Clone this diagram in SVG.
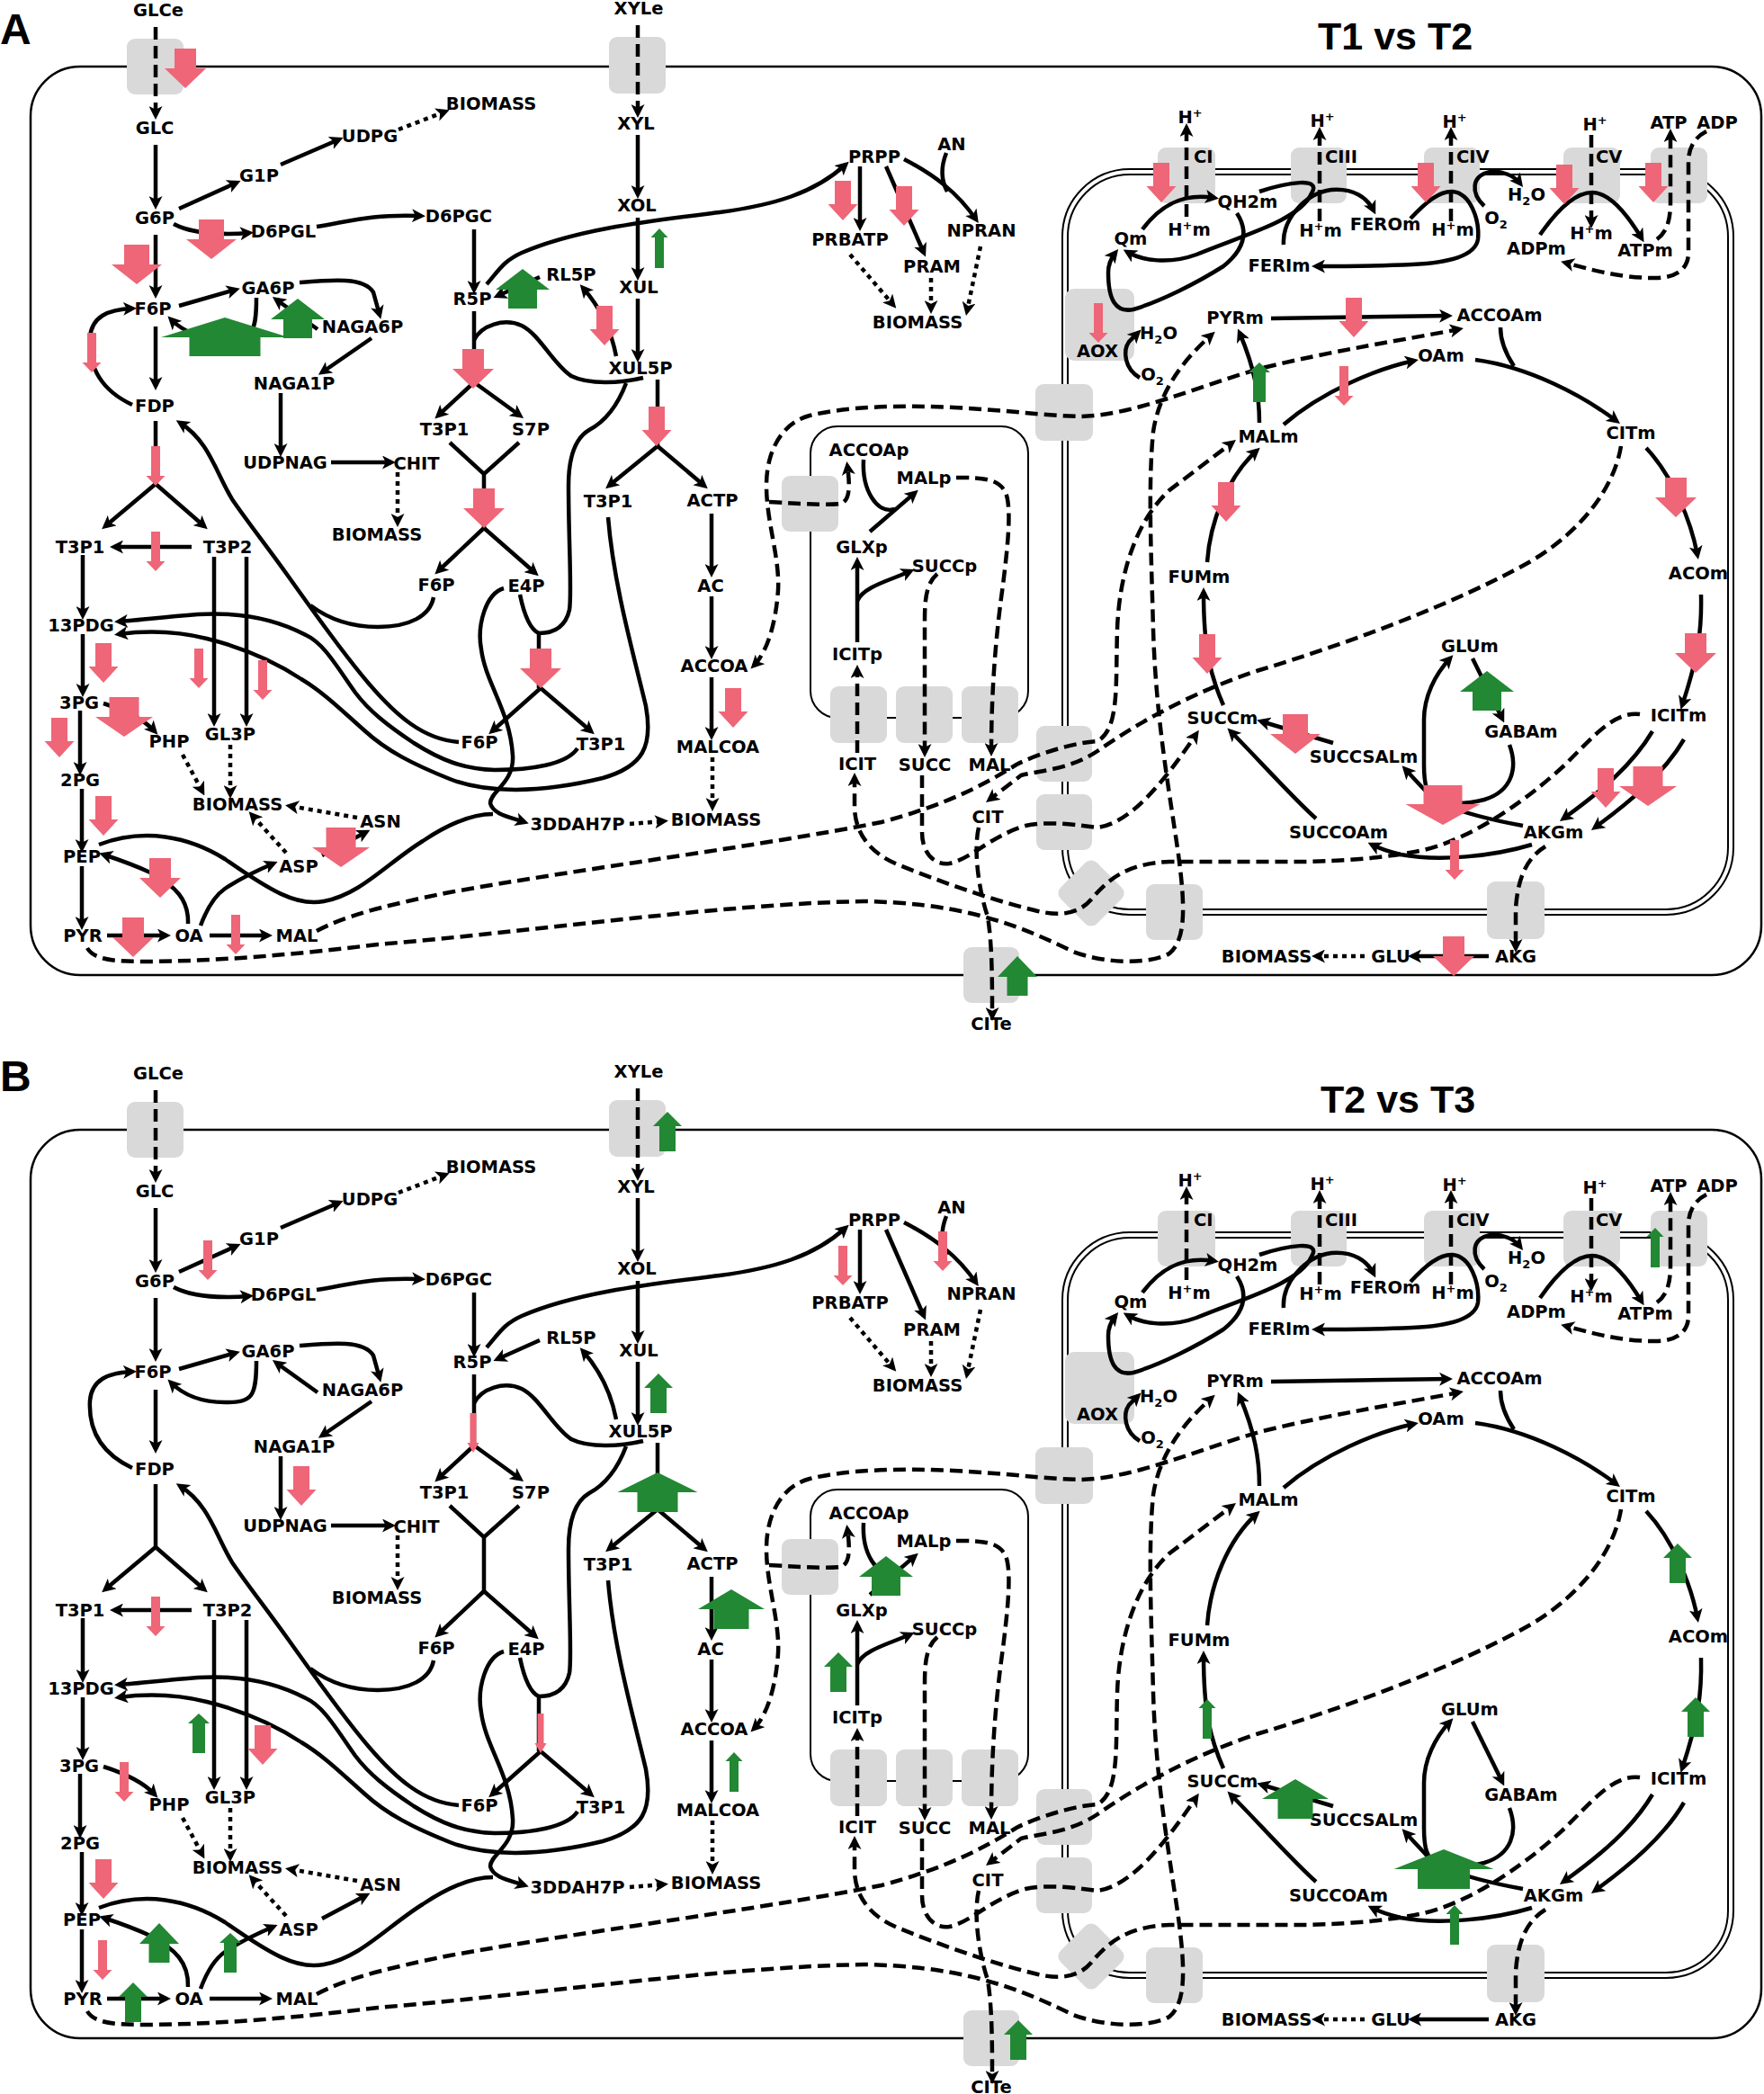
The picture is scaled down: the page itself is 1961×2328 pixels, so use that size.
<svg xmlns="http://www.w3.org/2000/svg" xmlns:xlink="http://www.w3.org/1999/xlink" width="1961" height="2328" viewBox="0 0 1961 2328">
<style>
.t{font-family:"DejaVu Sans",Verdana,sans-serif;font-weight:bold;font-size:19.5px;text-anchor:middle;fill:#000}
.ts{text-anchor:start}
.sup{font-size:13px}
.s{fill:none;stroke:#000;stroke-width:4.5}
.a{marker-end:url(#ah)}
.d{stroke-dasharray:14 7}
.o{stroke-dasharray:5 5}
.m{fill:none;stroke:#000;stroke-width:2}
.cell{fill:none;stroke:#000;stroke-width:2.5}
.box{fill:#d9d9d9}
.pk{fill:#EE6677}
.gr{fill:#228833}
.big{font-family:"Liberation Sans",Arial,sans-serif;font-weight:bold;fill:#000}
</style>
<defs>
<marker id="ah" viewBox="0 0 12 12" refX="8" refY="6" markerWidth="15" markerHeight="15" markerUnits="userSpaceOnUse" orient="auto-start-reverse"><path d="M0,0L12,6L0,12L3,6Z" fill="#000"/></marker>
<path id="dXS" d="M-3.5,0H3.5V33H6.5L0,44L-6.5,33H-3.5Z"/>
<path id="dS" d="M-5,0H5V33H10.5L0,44L-10.5,33H-5Z"/>
<path id="dM" d="M-9,0H9V26H16.5L0,44L-16.5,26H-9Z"/>
<path id="dL" d="M-12,0H12V22H23L0,44L-23,22H-12Z"/>
<path id="dLL" d="M-14,0H14V22H28L0,44L-28,22H-14Z"/>
<path id="dXL" d="M-16.5,0H16.5V22H32L0,44L-32,22H-16.5Z"/>
<path id="dXXL" d="M-21.5,0H21.5V21H41.5L0,44L-41.5,21H-21.5Z"/>
<path id="uS" d="M0,0L9.5,10H5V44H-5V10H-9.5Z"/>
<path id="uM" d="M0,0L12,11H7V44H-7V11H-12Z"/>
<path id="uM2" d="M0,0L16,16H9V44H-9V16H-16Z"/>
<path id="uL" d="M0,0L22,23H11.5V44H-11.5V23H-22Z"/>
<path id="uL2" d="M0,0L30,23H16V44H-16V23H-30Z"/>
<path id="uL3" d="M0,0L37,22H19.5V44H-19.5V22H-37Z"/>
<path id="uXL" d="M0,0L44.5,22H22.5V44H-22.5V22H-44.5Z"/>
<path id="uXL2" d="M0,0L55.5,22H29V44H-29V22H-55.5Z"/>
<path id="uXXL" d="M0,0L71,22H39.5V43H-39.5V22H-71Z"/>

<g id="net">
<g id="compartments">
<rect x="34" y="74" width="1924" height="1010" rx="55" class="cell"/>
<rect x="1181" y="188" width="746" height="829" rx="75" class="m"/>
<rect x="1187" y="194" width="734" height="817" rx="69" class="m"/>
<rect x="901" y="474" width="242" height="324" rx="30" class="m"/>
</g>
<g id="transporters">
<rect class="box" x="141" y="43" width="63" height="62" rx="9"/>
<rect class="box" x="677" y="41" width="63" height="63" rx="9"/>
<rect class="box" x="869" y="529" width="63" height="62" rx="9"/>
<rect class="box" x="923" y="763" width="63" height="63" rx="9"/>
<rect class="box" x="996" y="763" width="63" height="63" rx="9"/>
<rect class="box" x="1069" y="763" width="63" height="63" rx="9"/>
<rect class="box" x="1071" y="1053" width="62" height="62" rx="9"/>
<rect class="box" x="1151" y="427" width="64" height="63" rx="9"/>
<rect class="box" x="1152" y="807" width="62" height="62" rx="9"/>
<rect class="box" x="1152" y="883" width="62" height="62" rx="9"/>
<rect class="box" x="-28.5" y="-28.5" width="57" height="57" rx="9" transform="translate(1213,993) rotate(45)"/>
<rect class="box" x="1274" y="983" width="63" height="62" rx="9"/>
<rect class="box" x="1653" y="980" width="64" height="64" rx="9"/>
<rect class="box" x="1287" y="164" width="64" height="62" rx="9"/>
<rect class="box" x="1435" y="164" width="62" height="62" rx="9"/>
<rect class="box" x="1583" y="164" width="62" height="62" rx="9"/>
<rect class="box" x="1738" y="164" width="63" height="62" rx="9"/>
<rect class="box" x="1835" y="164" width="63" height="62" rx="9"/>
<rect class="box" x="1184" y="321" width="77" height="80" rx="10"/>
</g>
<g id="connectors">
<g class="s a">
<path d="M173,161V228"/><path d="M199,232L263,203"/><path d="M312,183L377,155"/>
<path d="M193,249C210,258 240,262 277,259"/><path d="M352,252C390,246 410,238 468,240"/>
<path d="M173,261V327"/><path d="M199,340L262,322"/><path d="M333,314C370,311 405,308 415,325L422,350"/>
<path d="M353,366L307,333"/><path d="M285,331C285,372 280,377 250,377C225,377 205,370 190,355"/>
<path d="M413,376L358,414"/><path d="M312,437V503"/><path d="M368,514H435"/>
<path d="M173,363V429"/><path d="M147,450C115,435 98,410 100,375C102,352 120,344 147,343"/>
<path d="M173,538L117,585"/><path d="M173,538L227,585"/>
<path d="M213,608H127"/><path d="M92,617V684"/><path d="M238,619V803"/><path d="M274,619V803"/>
<path d="M92,705V770"/><path d="M115,782C140,790 160,800 172,813"/><path d="M89,790V857"/>
<path d="M91,877V943"/><path d="M91,963V1029"/><path d="M119,1040H185"/><path d="M233,1040H298"/>
<path d="M209,1027C210,1000 195,985 167,970C150,962 130,955 115,950"/>
<path d="M223,1029C230,1010 240,995 250,988C265,978 285,968 304,960"/>
<path d="M358,951L407,925"/>
<path d="M560,654C540,660 530,695 535,722C540,760 567,790 570,840C572,870 545,880 545,893C548,905 565,908 583,914"/>
<path d="M510,825C470,822 440,795 410,760C380,725 345,675 320,640C295,605 275,580 258,555C240,525 232,490 200,470"/>
<path d="M642,832C630,850 590,856 550,856C515,855 490,845 460,826C430,806 410,790 395,770C375,742 360,715 340,706C310,690 270,680 220,683C180,686 150,690 132,691"/>
<path d="M676,575C682,650 705,730 718,785C726,830 715,852 670,865C600,882 540,882 500,866C460,850 430,835 405,812C380,790 360,770 335,755C305,735 270,720 230,710C190,700 155,702 132,705"/>
<path d="M527,255V322"/><path d="M600,308L553,329"/><path d="M685,396C680,370 670,345 648,320"/>
<path d="M541,316C555,300 560,290 580,281C640,255 720,246 800,236C860,228 905,215 940,183"/>
<path d="M527,425L487,462"/><path d="M527,425L578,462"/>
<path d="M538,587L487,635"/><path d="M538,587L595,637"/>
<path d="M709,150V216"/><path d="M709,242V307"/><path d="M709,332V398"/>
<path d="M731,496L677,540"/><path d="M731,496L783,540"/>
<path d="M601,765L547,813"/><path d="M601,765L657,813"/>
<path d="M791,571V637"/><path d="M791,663V728"/><path d="M791,753V818"/>
<path d="M956,185V252"/><path d="M985,185L1027,281"/><path d="M1005,177C1040,195 1065,215 1085,244"/>
<path d="M953,714V624"/><path d="M953,668C960,652 990,645 1012,635"/><path d="M967,591L1017,548"/>
<path d="M1270,255C1290,228 1315,214 1350,220"/>
<path d="M1400,213C1430,203 1470,196 1458,215C1445,245 1380,262 1330,283C1300,294 1270,290 1253,280"/>
<path d="M1375,237C1390,260 1380,280 1360,296C1330,315 1290,335 1260,344C1240,348 1232,333 1232,303C1232,292 1236,286 1240,281"/>
<path d="M1427,272C1425,245 1450,215 1480,211C1505,209 1520,220 1527,234"/>
<path d="M1568,243C1585,225 1600,212 1615,213C1635,215 1645,245 1643,266C1640,285 1610,292 1570,294C1530,296 1490,296 1463,296"/>
<path d="M1650,229C1635,215 1635,195 1657,191C1670,190 1683,195 1690,204"/>
<path d="M1712,261C1730,235 1750,214 1770,214C1790,214 1810,240 1825,265"/>
<path d="M1267,420C1250,410 1248,390 1255,380L1265,370"/>
<path d="M1413,354L1610,351"/><path d="M1400,470C1400,440 1395,410 1378,370"/>
<path d="M1427,472C1470,435 1530,410 1572,401"/><path d="M1640,400C1700,408 1760,440 1797,468"/>
<path d="M1830,498C1860,530 1880,580 1887,617"/><path d="M1891,661C1892,700 1888,730 1870,784"/>
<path d="M1837,813C1815,850 1780,880 1738,910"/><path d="M1872,822C1850,860 1810,893 1773,920"/>
<path d="M1693,918C1660,912 1630,905 1600,893C1585,885 1583,870 1583,850V800C1583,775 1595,750 1612,732"/>
<path d="M1590,885L1562,855"/><path d="M1637,732L1670,799"/><path d="M1482,826L1402,802"/>
<path d="M1463,910C1440,890 1395,840 1368,813"/>
<path d="M1703,939C1660,952 1600,958 1557,950C1545,947 1535,944 1525,939"/>
<path d="M1360,784C1345,750 1338,720 1338,658"/><path d="M1342,625C1345,580 1365,530 1397,501"/>
<path d="M1655,1063H1570"/>
</g>
<g class="s">
<path d="M173,468V538"/><path d="M110,939C160,920 210,930 250,955C300,990 330,1008 360,1002C400,995 430,960 470,935C500,915 525,905 548,905"/>
<path d="M482,664C478,685 455,697 420,697C390,697 365,688 345,673"/>
<path d="M527,346V425"/><path d="M527,378C535,362 560,353 580,362C600,372 615,405 635,418C655,428 690,426 715,420"/>
<path d="M500,492L538,527L577,492M538,527V587"/>
<path d="M731,422V496"/>
<path d="M696,426C685,455 670,470 655,478C638,488 632,510 632,540C632,600 636,660 633,678C628,700 612,704 599,704"/>
<path d="M578,661C583,685 590,700 599,704M599,704V765"/>
<path d="M1052,170C1046,185 1046,200 1053,213"/>
<path d="M960,511C958,545 975,572 995,566"/>
<path d="M1668,364C1668,380 1675,395 1683,407"/>
<path d="M1678,828C1688,855 1680,880 1650,889C1635,893 1620,894 1605,892"/>
</g>
<g class="s d a">
<path d="M173,30V128"/><path d="M709,28V126"/>
<path d="M1319,241V142"/><path d="M1467,246V146"/><path d="M1613,246V146"/><path d="M1769,150V249"/>
<path d="M1842,266C1853,258 1857,245 1857,225V148"/>
<path d="M1897,146C1885,152 1877,163 1877,180V281C1877,298 1865,309 1840,309C1800,309 1770,300 1740,292"/>
<path style="marker-start:url(#ah)" d="M838,740C850,728 862,700 865,656C867,620 852,580 852,540C852,500 870,470 900,462C940,452 1000,450 1060,453C1120,456 1160,462 1200,463C1260,462 1330,430 1400,410C1480,390 1560,378 1622,366"/>
<path d="M855,558C890,560 920,562 935,560C945,556 945,540 942,518"/>
<path d="M1063,531C1090,531 1110,531 1118,548C1125,565 1120,610 1115,650C1108,700 1102,760 1102,836"/>
<path d="M1042,638C1030,648 1028,665 1028,690V837"/>
<path d="M1025,862V925C1025,950 1040,962 1055,960C1080,955 1100,930 1140,918C1170,912 1200,918 1220,920C1260,915 1300,860 1330,816"/>
<path d="M953,837V744"/>
<path d="M1823,794C1795,790 1770,820 1740,850C1710,878 1640,935 1573,947C1530,955 1480,958 1440,958L1300,958C1250,960 1230,980 1213,1000C1200,1015 1180,1020 1150,1012C1100,1000 1040,978 1000,962C970,950 952,930 950,900L950,864"/>
<path d="M1802,496C1795,540 1760,590 1700,625C1620,670 1500,715 1400,745C1330,768 1270,800 1220,835C1190,855 1160,856 1135,862L1100,889"/>
<path d="M1088,920C1082,945 1088,990 1098,1019C1103,1050 1103,1090 1103,1130"/>
<path d="M352,1035C380,1020 420,1008 500,992C650,965 850,940 980,914C1050,895 1090,875 1130,850C1160,835 1200,825 1220,824C1245,810 1240,760 1242,700C1244,640 1262,580 1300,545L1370,492"/>
<path d="M97,1054C105,1068 130,1069 167,1069C250,1068 330,1061 420,1050C600,1035 800,1005 960,1002C1060,1004 1120,1022 1193,1058C1230,1072 1280,1072 1300,1060C1318,1045 1318,1010 1310,950C1300,880 1285,800 1282,700C1280,620 1276,540 1282,480C1288,440 1310,405 1347,372"/>
<path d="M1718,941C1695,955 1687,980 1685,1010V1054"/>
</g>
<g class="s o a">
<path d="M443,144L495,124"/><path d="M442,525V581"/><path d="M203,839L225,880"/><path d="M256,828V883"/>
<path d="M397,909L322,896"/><path d="M318,948L280,906"/><path d="M700,916L738,913"/><path d="M792,842V897"/>
<path d="M1035,309V344"/><path d="M1090,274L1075,346"/><path d="M945,283L993,339"/><path d="M1517,1063H1463"/>
</g>
</g>
<g id="nodes">
<g id="n-GLCe"><text class="t" x="176" y="18">GLCe</text></g>
<g id="n-GLC"><text class="t" x="172" y="149">GLC</text></g>
<g id="n-G6P"><text class="t" x="172" y="249">G6P</text></g>
<g id="n-G1P"><text class="t" x="288" y="202">G1P</text></g>
<g id="n-UDPG"><text class="t" x="411" y="158">UDPG</text></g>
<g id="n-BIOMASS1"><text class="t" x="546" y="122">BIOMASS</text></g>
<g id="n-D6PGL"><text class="t" x="315" y="264">D6PGL</text></g>
<g id="n-D6PGC"><text class="t" x="510" y="247">D6PGC</text></g>
<g id="n-F6P"><text class="t" x="170" y="350">F6P</text></g>
<g id="n-GA6P"><text class="t" x="298" y="327">GA6P</text></g>
<g id="n-NAGA6P"><text class="t" x="403" y="370">NAGA6P</text></g>
<g id="n-NAGA1P"><text class="t" x="327" y="433">NAGA1P</text></g>
<g id="n-UDPNAG"><text class="t" x="317" y="521">UDPNAG</text></g>
<g id="n-CHIT"><text class="t" x="463" y="522">CHIT</text></g>
<g id="n-BIOMASS2"><text class="t" x="419" y="601">BIOMASS</text></g>
<g id="n-FDP"><text class="t" x="172" y="458">FDP</text></g>
<g id="n-T3P1a"><text class="t" x="89" y="615">T3P1</text></g>
<g id="n-T3P2"><text class="t" x="253" y="615">T3P2</text></g>
<g id="n-13PDG"><text class="t" x="90" y="702">13PDG</text></g>
<g id="n-3PG"><text class="t" x="88" y="788">3PG</text></g>
<g id="n-PHP"><text class="t" x="188" y="831">PHP</text></g>
<g id="n-GL3P"><text class="t" x="256" y="823">GL3P</text></g>
<g id="n-2PG"><text class="t" x="89" y="874">2PG</text></g>
<g id="n-PEP"><text class="t" x="91" y="959">PEP</text></g>
<g id="n-PYR"><text class="t" x="92" y="1047">PYR</text></g>
<g id="n-OA"><text class="t" x="210" y="1047">OA</text></g>
<g id="n-MAL"><text class="t" x="330" y="1047">MAL</text></g>
<g id="n-ASP"><text class="t" x="332" y="970">ASP</text></g>
<g id="n-ASN"><text class="t" x="423" y="920">ASN</text></g>
<g id="n-BIOMASS3"><text class="t" x="264" y="901">BIOMASS</text></g>
<g id="n-3DDAH7P"><text class="t" x="642" y="923">3DDAH7P</text></g>
<g id="n-BIOMASS4"><text class="t" x="796" y="918">BIOMASS</text></g>
<g id="n-XYLe"><text class="t" x="710" y="16">XYLe</text></g>
<g id="n-XYL"><text class="t" x="707" y="144">XYL</text></g>
<g id="n-XOL"><text class="t" x="708" y="235">XOL</text></g>
<g id="n-XUL"><text class="t" x="710" y="326">XUL</text></g>
<g id="n-XUL5P"><text class="t" x="712" y="416">XUL5P</text></g>
<g id="n-R5P"><text class="t" x="525" y="339">R5P</text></g>
<g id="n-RL5P"><text class="t" x="635" y="312">RL5P</text></g>
<g id="n-T3P1b"><text class="t" x="494" y="484">T3P1</text></g>
<g id="n-S7P"><text class="t" x="590" y="484">S7P</text></g>
<g id="n-F6Pb"><text class="t" x="485" y="657">F6P</text></g>
<g id="n-E4P"><text class="t" x="585" y="658">E4P</text></g>
<g id="n-F6Pc"><text class="t" x="533" y="832">F6P</text></g>
<g id="n-T3P1c"><text class="t" x="668" y="834">T3P1</text></g>
<g id="n-T3P1d"><text class="t" x="676" y="564">T3P1</text></g>
<g id="n-ACTP"><text class="t" x="792" y="563">ACTP</text></g>
<g id="n-AC"><text class="t" x="790" y="658">AC</text></g>
<g id="n-ACCOA"><text class="t" x="794" y="747">ACCOA</text></g>
<g id="n-MALCOA"><text class="t" x="798" y="837">MALCOA</text></g>
<g id="n-PRPP"><text class="t" x="972" y="181">PRPP</text></g>
<g id="n-PRBATP"><text class="t" x="945" y="273">PRBATP</text></g>
<g id="n-AN"><text class="t" x="1058" y="167">AN</text></g>
<g id="n-NPRAN"><text class="t" x="1091" y="263">NPRAN</text></g>
<g id="n-PRAM"><text class="t" x="1036" y="303">PRAM</text></g>
<g id="n-BIOMASS5"><text class="t" x="1020" y="365">BIOMASS</text></g>
<g id="n-ACCOAp"><text class="t" x="966" y="507">ACCOAp</text></g>
<g id="n-MALp"><text class="t" x="1027" y="538">MALp</text></g>
<g id="n-GLXp"><text class="t" x="958" y="615">GLXp</text></g>
<g id="n-SUCCp"><text class="t" x="1050" y="636">SUCCp</text></g>
<g id="n-ICITp"><text class="t" x="953" y="734">ICITp</text></g>
<g id="n-ICIT"><text class="t" x="953" y="856">ICIT</text></g>
<g id="n-SUCC"><text class="t" x="1028" y="857">SUCC</text></g>
<g id="n-MAL2"><text class="t" x="1100" y="857">MAL</text></g>
<g id="n-CIT"><text class="t" x="1098" y="915">CIT</text></g>
<g id="n-CITe"><text class="t" x="1102" y="1145">CITe</text></g>
<g id="n-CI"><text class="t ts" x="1327" y="181">CI</text></g>
<g id="n-CIII"><text class="t ts" x="1473" y="181">CIII</text></g>
<g id="n-CIV"><text class="t ts" x="1619" y="181">CIV</text></g>
<g id="n-CV"><text class="t ts" x="1774" y="181">CV</text></g>
<g id="n-H1"><text class="t" x="1323" y="137">H<tspan class="sup" dy="-7">+</tspan></text></g>
<g id="n-H2"><text class="t" x="1470" y="141">H<tspan class="sup" dy="-7">+</tspan></text></g>
<g id="n-H3"><text class="t" x="1617" y="142">H<tspan class="sup" dy="-7">+</tspan></text></g>
<g id="n-H4"><text class="t" x="1773" y="145">H<tspan class="sup" dy="-7">+</tspan></text></g>
<g id="n-Hm1"><text class="t" x="1322" y="262">H<tspan class="sup" dy="-7">+</tspan><tspan dy="7">m</tspan></text></g>
<g id="n-Hm2"><text class="t" x="1468" y="263">H<tspan class="sup" dy="-7">+</tspan><tspan dy="7">m</tspan></text></g>
<g id="n-Hm3"><text class="t" x="1615" y="262">H<tspan class="sup" dy="-7">+</tspan><tspan dy="7">m</tspan></text></g>
<g id="n-Hm4"><text class="t" x="1769" y="266">H<tspan class="sup" dy="-7">+</tspan><tspan dy="7">m</tspan></text></g>
<g id="n-ATP"><text class="t" x="1855" y="143">ATP</text></g>
<g id="n-ADP"><text class="t" x="1909" y="143">ADP</text></g>
<g id="n-Qm"><text class="t" x="1257" y="272">Qm</text></g>
<g id="n-QH2m"><text class="t" x="1387" y="231">QH2m</text></g>
<g id="n-FEROm"><text class="t" x="1540" y="256">FEROm</text></g>
<g id="n-FERIm"><text class="t" x="1422" y="302">FERIm</text></g>
<g id="n-H2O1"><text class="t" x="1697" y="223">H<tspan class="sup" dy="5">2</tspan><tspan dy="-5">O</tspan></text></g>
<g id="n-O21"><text class="t" x="1663" y="249">O<tspan class="sup" dy="5">2</tspan></text></g>
<g id="n-ADPm"><text class="t" x="1708" y="283">ADPm</text></g>
<g id="n-ATPm"><text class="t" x="1829" y="285">ATPm</text></g>
<g id="n-AOX"><text class="t" x="1220" y="397">AOX</text></g>
<g id="n-H2O2"><text class="t" x="1288" y="377">H<tspan class="sup" dy="5">2</tspan><tspan dy="-5">O</tspan></text></g>
<g id="n-O22"><text class="t" x="1281" y="423">O<tspan class="sup" dy="5">2</tspan></text></g>
<g id="n-PYRm"><text class="t" x="1373" y="360">PYRm</text></g>
<g id="n-ACCOAm"><text class="t" x="1667" y="357">ACCOAm</text></g>
<g id="n-OAm"><text class="t" x="1602" y="402">OAm</text></g>
<g id="n-MALm"><text class="t" x="1410" y="492">MALm</text></g>
<g id="n-CITm"><text class="t" x="1813" y="488">CITm</text></g>
<g id="n-ACOm"><text class="t" x="1888" y="644">ACOm</text></g>
<g id="n-FUMm"><text class="t" x="1333" y="648">FUMm</text></g>
<g id="n-SUCCm"><text class="t" x="1359" y="805">SUCCm</text></g>
<g id="n-ICITm"><text class="t" x="1866" y="802">ICITm</text></g>
<g id="n-GLUm"><text class="t" x="1634" y="725">GLUm</text></g>
<g id="n-GABAm"><text class="t" x="1691" y="820">GABAm</text></g>
<g id="n-SUCCSALm"><text class="t" x="1516" y="848">SUCCSALm</text></g>
<g id="n-SUCCOAm"><text class="t" x="1488" y="932">SUCCOAm</text></g>
<g id="n-AKGm"><text class="t" x="1727" y="932">AKGm</text></g>
<g id="n-AKG"><text class="t" x="1685" y="1070">AKG</text></g>
<g id="n-GLU"><text class="t" x="1546" y="1070">GLU</text></g>
<g id="n-BIOMASS6"><text class="t" x="1408" y="1070">BIOMASS</text></g>
</g>
</g>
</defs>

<use href="#net" xlink:href="#net"/>
<use href="#net" xlink:href="#net" y="1182"/>

<g id="labels">
<text class="big" x="0" y="49" font-size="48">A</text>
<text class="big" x="1465" y="55" font-size="43">T1 vs T2</text>
<text class="big" x="0" y="1213" font-size="48">B</text>
<text class="big" x="1468" y="1237" font-size="43">T2 vs T3</text>
</g>

<g id="fc-A">
<use href="#dL" x="206" y="54" class="pk"/>
<use href="#dLL" x="235" y="244" class="pk"/>
<use href="#dLL" x="152" y="272" class="pk"/>
<use href="#dS" x="102" y="370" class="pk"/>
<use href="#dS" x="173" y="496" class="pk"/>
<use href="#dS" x="173" y="591" class="pk"/>
<use href="#dM" x="115" y="715" class="pk"/>
<use href="#dS" x="221" y="721" class="pk"/>
<use href="#dS" x="292" y="734" class="pk"/>
<use href="#dXL" x="138" y="775" class="pk"/>
<use href="#dM" x="66" y="798" class="pk"/>
<use href="#dM" x="115" y="885" class="pk"/>
<use href="#dL" x="178" y="954" class="pk"/>
<use href="#dL" x="148" y="1020" class="pk"/>
<use href="#dS" x="262" y="1017" class="pk"/>
<use href="#dXL" x="379" y="920" class="pk"/>
<use href="#dL" x="526" y="388" class="pk"/>
<use href="#dL" x="538" y="543" class="pk"/>
<use href="#dL" x="601" y="721" class="pk"/>
<use href="#dM" x="730" y="452" class="pk"/>
<use href="#dM" x="672" y="340" class="pk"/>
<use href="#dM" x="937" y="201" class="pk"/>
<use href="#dM" x="1005" y="207" class="pk"/>
<use href="#dM" x="815" y="765" class="pk"/>
<use href="#dM" x="1291" y="181" class="pk"/>
<use href="#dM" x="1585" y="181" class="pk"/>
<use href="#dM" x="1739" y="183" class="pk"/>
<use href="#dM" x="1838" y="181" class="pk"/>
<use href="#dS" x="1221" y="337" class="pk"/>
<use href="#dM" x="1505" y="331" class="pk"/>
<use href="#dS" x="1494" y="407" class="pk"/>
<use href="#dL" x="1863" y="531" class="pk"/>
<use href="#dL" x="1885" y="704" class="pk"/>
<use href="#dM" x="1785" y="854" class="pk"/>
<use href="#dXL" x="1832" y="852" class="pk"/>
<use href="#dXXL" x="1604" y="873" class="pk"/>
<use href="#dLL" x="1440" y="794" class="pk"/>
<use href="#dM" x="1342" y="705" class="pk"/>
<use href="#dM" x="1363" y="536" class="pk"/>
<use href="#dS" x="1617" y="934" class="pk"/>
<use href="#dL" x="1616" y="1041" class="pk"/>
<use href="#uXXL" x="250" y="353" class="gr"/>
<use href="#uL2" x="331" y="332" class="gr"/>
<use href="#uL2" x="581" y="299" class="gr"/>
<use href="#uS" x="733" y="254" class="gr"/>
<use href="#uM" x="1400" y="403" class="gr"/>
<use href="#uL2" x="1653" y="746" class="gr"/>
<use href="#uL" x="1131" y="1063" class="gr"/>
</g>

<g id="fc-B" transform="translate(0,1182)">
<use href="#dS" x="231" y="197" class="pk"/>
<use href="#dM" x="335" y="448" class="pk"/>
<use href="#dXS" x="526" y="389" class="pk"/>
<use href="#dS" x="937" y="203" class="pk"/>
<use href="#dS" x="1048" y="187" class="pk"/>
<use href="#dS" x="173" y="593" class="pk"/>
<use href="#dM" x="292" y="736" class="pk"/>
<use href="#dS" x="138" y="777" class="pk"/>
<use href="#dM" x="115" y="885" class="pk"/>
<use href="#dS" x="114" y="975" class="pk"/>
<use href="#dXS" x="601" y="723" class="pk"/>
<use href="#uM2" x="742" y="54" class="gr"/>
<use href="#uM2" x="732" y="345" class="gr"/>
<use href="#uXL" x="731" y="455" class="gr"/>
<use href="#uS" x="1840" y="183" class="gr"/>
<use href="#uM2" x="1865" y="534" class="gr"/>
<use href="#uM" x="221" y="723" class="gr"/>
<use href="#uL" x="177" y="956" class="gr"/>
<use href="#uM" x="256" y="967" class="gr"/>
<use href="#uM2" x="148" y="1022" class="gr"/>
<use href="#uL3" x="813" y="585" class="gr"/>
<use href="#uS" x="816" y="766" class="gr"/>
<use href="#uM2" x="932" y="655" class="gr"/>
<use href="#uL2" x="985" y="548" class="gr"/>
<use href="#uS" x="1342" y="707" class="gr"/>
<use href="#uM2" x="1885" y="705" class="gr"/>
<use href="#uL3" x="1440" y="796" class="gr"/>
<use href="#uXL2" x="1605" y="874" class="gr"/>
<use href="#uS" x="1617" y="936" class="gr"/>
<use href="#uM2" x="1132" y="1064" class="gr"/>
</g>
</svg>
